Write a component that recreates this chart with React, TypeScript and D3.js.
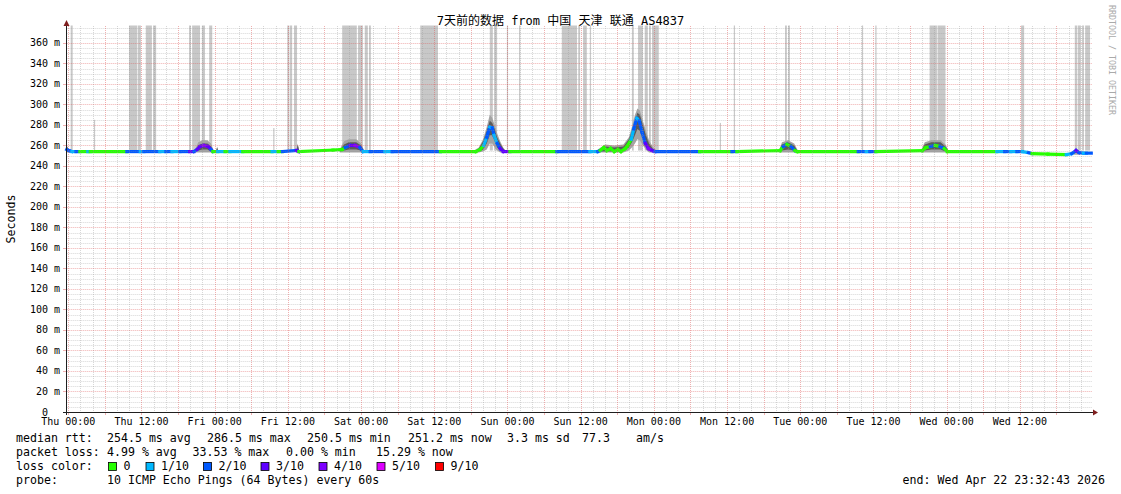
import React from 'react';
import * as d3 from 'd3';

// hours are counted from Thu 00:00 (Apr 16 2026)
const xLabels = ['Thu 00:00', 'Thu 12:00', 'Fri 00:00', 'Fri 12:00', 'Sat 00:00', 'Sat 12:00', 'Sun 00:00',
  'Sun 12:00', 'Mon 00:00', 'Mon 12:00', 'Tue 00:00', 'Tue 12:00', 'Wed 00:00', 'Wed 12:00'];
const yTicks = d3.range(0, 361, 20);

const lossLevels = [0, 1, 2, 3, 4, 5, 9];
const lossLabels = ['0', '1/10', '2/10', '3/10', '4/10', '5/10', '9/10'];
const lossColors: Record<number, string> = {
  0: '#26ff00', 1: '#00b8ff', 2: '#0059ff', 3: '#5e00ff', 4: '#7e00ff', 5: '#dd00ff', 9: '#ff0000',
};

// [hour, median ms, loss /10]
const medianPts: [number, number, number][] = [
  [-0.26, 256, 2], [0.1, 255, 2], [0.6, 254, 1], [1.26, 254, 2], [1.9, 254, 0], [3.2, 254, 1], [3.6, 254, 0],
  [9.6, 254, 2], [11.8, 254, 1], [12.4, 254, 2], [15.0, 254, 1], [16.0, 254, 2], [17.0, 254, 1], [18.3, 254, 2],
  [19.9, 254, 3], [20.6, 254, 2], [21.1, 256, 3], [21.6, 259, 3], [22.2, 260, 4], [22.9, 259, 3], [23.4, 256, 2],
  [23.7, 254, 0], [24.5, 254, 1], [25.7, 254, 0], [26.5, 254, 1], [28.6, 254, 0], [33.4, 254, 1], [34.4, 254, 0],
  [35.1, 254, 2], [37.4, 255, 3], [37.8, 254, 0], [43.4, 255.5, 0], [44.9, 256, 0], [45.4, 258, 2], [46.2, 260, 3],
  [47.0, 260, 4], [47.8, 258, 2], [48.3, 254, 1], [49.5, 254, 2], [51.9, 254, 1], [53.1, 254, 2], [61.0, 254, 0],
  [66.8, 254, 0], [67.5, 256, 0], [68.1, 260, 1], [68.6, 268, 2], [69.1, 278, 1], [69.5, 277, 2], [69.8, 270, 1],
  [70.3, 262, 2], [70.8, 257, 3], [71.3, 254, 3], [72.4, 254, 0], [80.1, 254, 2], [85.5, 254, 1], [86.8, 254, 2],
  [87.2, 255, 0], [87.8, 258, 0], [88.3, 255, 0], [88.9, 257, 0], [89.5, 254, 0], [90.1, 256, 0], [90.6, 254, 0],
  [91.3, 257, 0], [91.7, 260, 0], [92.3, 266, 1], [92.7, 276, 2], [93.2, 286.5, 1], [93.6, 284, 2], [94.1, 272, 2],
  [94.6, 262, 3], [95.1, 257, 4], [95.7, 255, 3], [96.2, 254, 2], [103.5, 254, 0], [108.8, 254, 2], [109.6, 254, 0],
  [116.7, 255, 0], [117.2, 259, 2], [117.8, 261, 0], [118.5, 259, 2], [119.1, 255, 0], [119.5, 254, 0],
  [129.5, 254, 2], [130.8, 254, 1], [131.4, 254, 2], [132.4, 254, 0], [140.0, 255, 0], [140.6, 258, 0],
  [141.3, 259, 2], [142.1, 260, 0], [142.9, 259, 2], [143.6, 257, 0], [144.1, 254, 0], [152.2, 254, 1],
  [153.5, 254, 2], [154.5, 254, 1], [155.5, 254, 2], [156.4, 254, 1], [157.4, 253, 2], [158.0, 252, 0],
  [160.6, 251.5, 0], [163.6, 251, 1], [164.5, 252, 2], [165.2, 255, 3], [165.7, 253, 2], [166.4, 252.5, 1],
  [166.9, 252.5, 2], [167.7, 252.5, 2],
];

// [hour, outer lo, inner lo, inner hi, outer hi]; NaN splits groups
const smoke: number[][] = [
  [-0.26, 253, 254, 259, 260], [0.2, 253, 254, 255, 255], [NaN],
  [20.8, 253, 254, 255, 256], [21.3, 253, 255, 260, 263], [22.0, 253, 256, 262, 265], [22.8, 253, 256, 262, 265],
  [23.4, 253, 254, 259, 262], [23.8, 253, 254, 254, 255], [NaN],
  [24.2, 253, 254, 254, 254], [24.4, 253, 254, 258, 259], [24.6, 253, 254, 254, 254], [NaN],
  [37.4, 253, 253, 254, 254], [37.6, 253, 254, 261, 262], [37.9, 253, 253, 254, 254], [NaN],
  [44.5, 253, 254, 255, 256], [45.2, 253, 255, 261, 264], [46.0, 253, 256, 263, 266], [47.2, 253, 256, 263, 266],
  [48.0, 253, 255, 260, 262], [48.5, 253, 254, 254, 255], [NaN],
  [66.5, 253, 254, 254, 255], [67.3, 253, 254, 257, 258], [68.0, 254, 256, 264, 266], [68.6, 256, 262, 274, 278],
  [69.1, 262, 270, 284, 290], [69.5, 262, 270, 282, 287], [69.9, 258, 264, 276, 280], [70.3, 255, 258, 268, 272],
  [70.8, 253, 255, 262, 264], [71.3, 253, 254, 257, 258], [71.8, 253, 253, 254, 254], [NaN],
  [86.8, 253, 254, 255, 256], [88.0, 253, 254, 259, 261], [89.5, 253, 254, 258, 260], [91.0, 253, 255, 259, 261],
  [91.9, 255, 258, 266, 268], [92.4, 258, 263, 274, 278], [92.9, 262, 270, 284, 290], [93.3, 266, 276, 292, 296],
  [93.7, 265, 274, 290, 294], [94.2, 260, 266, 280, 284], [94.7, 256, 259, 270, 274], [95.2, 253, 255, 262, 265],
  [95.8, 253, 254, 257, 259], [96.4, 253, 254, 254, 255], [NaN],
  [116.5, 253, 254, 254, 255], [117.0, 253, 255, 261, 263], [118.0, 253, 256, 263, 265], [119.0, 253, 255, 260, 262],
  [119.6, 253, 254, 254, 255], [NaN],
  [139.8, 253, 254, 254, 255], [140.4, 253, 255, 261, 263], [141.5, 253, 256, 263, 265], [143.0, 253, 256, 263, 265],
  [143.8, 253, 254, 259, 261], [144.3, 253, 254, 254, 255], [NaN],
  [164.8, 251, 252, 253, 254], [165.3, 251, 253, 256, 257], [165.9, 251, 252, 253, 254],
];

const FULL = 377;
// [hour from, hour to, top ms]
const grayBars: [number, number, number][] = [
  [0.39, 0.72, FULL], [4.2, 4.4, 285], [9.95, 11.3, FULL], [11.4, 11.9, FULL], [12.7, 13.7, FULL], [13.9, 14.4, FULL],
  [19.8, 20.1, FULL], [20.3, 21.6, FULL], [21.9, 22.4, FULL], [23.1, 23.6, FULL], [33.6, 33.8, 277],
  [35.9, 36.2, FULL], [36.3, 36.7, FULL], [37.0, 37.5, FULL], [44.9, 47.3, FULL], [47.5, 48.3, FULL],
  [48.6, 49.1, FULL], [49.3, 49.6, FULL], [57.7, 60.6, FULL], [69.1, 69.6, FULL], [69.8, 70.3, FULL],
  [71.9, 72.1, FULL], [73.9, 74.1, FULL], [80.9, 83.4, FULL], [83.6, 83.9, FULL], [84.4, 85.0, FULL],
  [85.5, 85.7, FULL], [92.4, 92.7, FULL], [93.4, 94.2, FULL], [94.5, 95.0, FULL], [95.2, 95.5, FULL],
  [95.7, 96.8, FULL], [106.8, 107.0, 282], [109.1, 109.3, FULL], [117.5, 117.8, FULL], [118.0, 118.3, FULL],
  [130.1, 130.3, FULL], [132.3, 132.5, FULL], [141.2, 142.4, FULL], [142.5, 143.8, FULL], [156.2, 156.7, FULL],
  [165.0, 165.4, FULL], [165.5, 166.0, FULL], [166.2, 166.5, FULL], [166.7, 167.5, FULL],
];

const MONO = '"DejaVu Sans Mono", "Noto Sans CJK SC", monospace';

const App: React.FC = () => {
  const x = d3.scaleLinear().domain([-0.26, 167.74]).range([66.7, 1091.5]);
  const y = d3.scaleLinear().domain([0, 376.5]).range([412, 26]);
  const px = (v: number) => Math.round(v) + 0.5;

  const minorY = d3.range(5, 377, 5).filter((v) => v % 20 !== 0);
  const majorY = d3.range(20, 377, 20);
  const minorX = d3.range(0, 168, 2).filter((h) => h % 6 !== 0);
  const majorX = d3.range(0, 168, 6);

  const outer = d3.area<number[]>()
    .defined((d) => !isNaN(d[0]))
    .x((d) => x(d[0])).y0((d) => y(d[1])).y1((d) => y(d[4]));
  const inner = d3.area<number[]>()
    .defined((d) => !isNaN(d[0]))
    .x((d) => x(d[0])).y0((d) => y(d[2])).y1((d) => y(d[3]));

  const legendRows = [
    { y: 438, items: [[16, 'median rtt:'], [107, '254.5 ms avg'], [207, '286.5 ms max'], [307, '250.5 ms min'],
      [408, '251.2 ms now'], [507, '3.3 ms sd'], [582, '77.3'], [636, 'am/s']] },
    { y: 452, items: [[16, 'packet loss:'], [107, '4.99 % avg'], [192.5, '33.53 % max'], [286, '0.00 % min'],
      [376, '15.29 % now']] },
    { y: 480, items: [[16, 'probe:'], [107, '10 ICMP Echo Pings (64 Bytes) every 60s']] },
  ];
  const boxX = [108.5, 146, 203.5, 261, 319, 377, 435.5];
  const minorCol = 'rgba(150,150,150,0.38)';
  const majorCol = 'rgba(222,79,79,0.45)';

  return (
    <svg width={1121} height={494} style={{ position: 'absolute', left: 0, top: 0, background: '#fff' }}
      fontFamily={MONO}>
      <rect width={1121} height={494} fill="#fff" />
      {/* gray full-height smoke */}
      {grayBars.map(([a, b, top], i) => (
        <rect key={i} x={x(a)} y={y(top)} width={Math.max(1, x(b) - x(a))} height={y(255) - y(top)} fill="#c8c8c8" />
      ))}
      <path d={outer(smoke) || ''} fill="#a4a4a4" />
      <path d={inner(smoke) || ''} fill="#5a5a5a" />
      {/* median coloured by loss */}
      {medianPts.slice(0, -1).map((p, i) => {
        const q = medianPts[i + 1];
        return <line key={i} x1={x(p[0])} y1={y(p[1])} x2={x(q[0])} y2={y(q[1])}
          stroke={lossColors[p[2]]} strokeWidth={3.2} strokeLinecap="square" />;
      })}
      {/* grid */}
      <g strokeDasharray="1,1" strokeWidth={1}>
        {minorY.map((v) => <line key={'my' + v} x1={66.7} x2={1092} y1={px(y(v))} y2={px(y(v))} stroke={minorCol} />)}
        {minorX.map((h) => <line key={'mx' + h} x1={px(x(h))} x2={px(x(h))} y1={26} y2={412} stroke={minorCol} />)}
        {majorY.map((v) => <line key={'My' + v} x1={66.7} x2={1092} y1={px(y(v))} y2={px(y(v))} stroke={majorCol} />)}
        {majorX.map((h) => <line key={'Mx' + h} x1={px(x(h))} x2={px(x(h))} y1={26} y2={412} stroke={majorCol} />)}
      </g>
      {/* ticks */}
      {majorY.map((v) => <line key={'ty' + v} x1={63} x2={66} y1={px(y(v))} y2={px(y(v))} stroke={majorCol} />)}
      {majorX.map((h) => <line key={'tx' + h} x1={px(x(h))} x2={px(x(h))} y1={412} y2={415} stroke={majorCol} />)}
      {/* axes */}
      <line x1={66.5} x2={66.5} y1={415} y2={24} stroke="#1f1f1f" />
      <line x1={63} x2={1093} y1={412.5} y2={412.5} stroke="#1f1f1f" />
      <path d="M63.5,26 L66.5,20 L69.5,26 Z" fill="#7f1f1f" />
      <path d="M1093,409.5 L1098,412.5 L1093,415.5 Z" fill="#7f1f1f" />
      {/* y labels */}
      <g fontSize={10} fill="#000">
        {yTicks.map((v) => (
          <g key={'yl' + v}>
            <text x={48} y={y(v)} dy="0.35em" textAnchor="end">{v}</text>
            {v > 0 && <text x={54} y={y(v)} dy="0.35em">m</text>}
          </g>
        ))}
        {xLabels.map((t, i) => (
          <text key={t} x={x(i * 12)} y={421} dy="0.35em" textAnchor="middle">{t}</text>
        ))}
      </g>
      <text x={560.5} y={21} dy="0.35em" textAnchor="middle" fontSize={12}>7天前的数据 from 中国 天津 联通 AS4837</text>
      <text transform="translate(11,219) rotate(-90)" dy="0.35em" textAnchor="middle" fontSize={11.6}>Seconds</text>
      <text transform="translate(1111.5,5) rotate(90)" dy="0.35em" fontSize={8.3} fill="#aaa">RRDTOOL / TOBI OETIKER</text>
      {/* legend */}
      <g fontSize={11.6} fill="#000">
        {legendRows.map((r) => r.items.map(([lx, t]) => (
          <text key={r.y + '-' + lx} x={lx as number} y={r.y} dy="0.35em">{t as string}</text>
        )))}
        <text x={16} y={466} dy="0.35em">loss color:</text>
        {lossLevels.map((l, i) => (
          <g key={'lg' + l}>
            <rect x={boxX[i]} y={462.5} width={8} height={8} fill={lossColors[l]} stroke="#000" strokeWidth={0.8} />
            <text x={boxX[i] + 15} y={466} dy="0.35em">{lossLabels[i]}</text>
          </g>
        ))}
        <text x={1105} y={480} dy="0.35em" textAnchor="end">end: Wed Apr 22 23:32:43 2026</text>
      </g>
    </svg>
  );
};

export default App;
